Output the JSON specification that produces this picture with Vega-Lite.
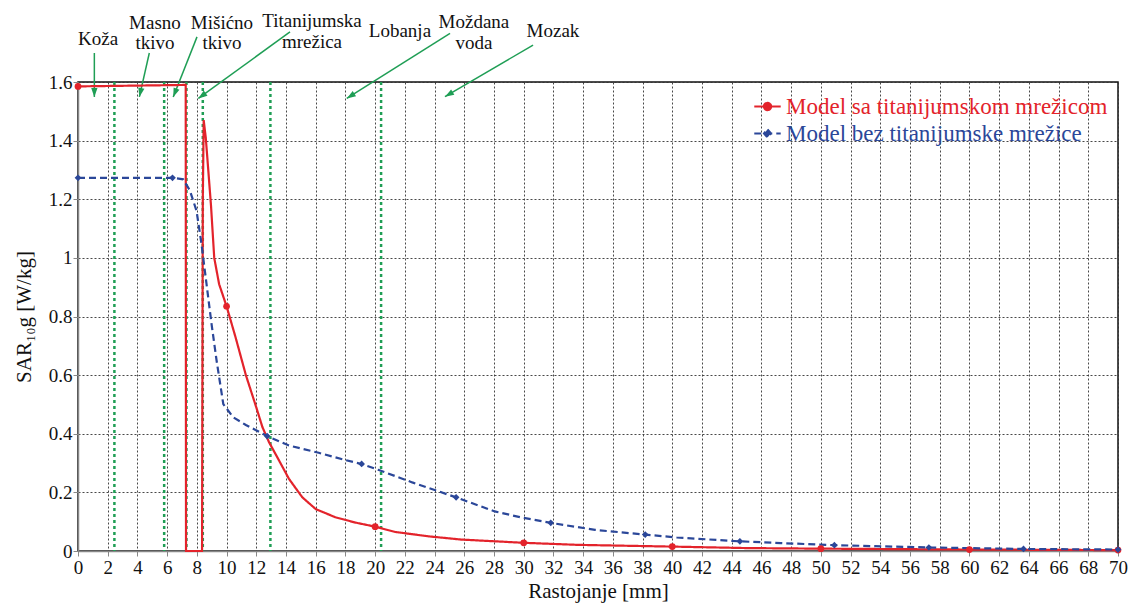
{
  "$schema": "https://vega.github.io/schema/vega-lite/v6.json",
  "width": 1040,
  "height": 469,
  "autosize": {"type": "none"},
  "padding": {"left": 78, "top": 82, "right": 11, "bottom": 57},
  "background": "white",
  "config": {
    "font": "Liberation Serif",
    "view": {"stroke": "#111111", "strokeWidth": 1.5},
    "axis": {
      "labelFont": "Liberation Serif",
      "titleFont": "Liberation Serif",
      "labelColor": "#111111",
      "titleColor": "#111111",
      "titleFontWeight": "normal",
      "labelFontSize": 19,
      "titleFontSize": 21,
      "domainColor": "#888888",
      "domainWidth": 1.5,
      "tickColor": "#888888",
      "tickSize": 5,
      "grid": true,
      "gridColor": "#333333",
      "gridDash": [2, 2],
      "gridWidth": 0.9,
      "labelOverlap": false
    }
  },
  "datasets": {
    "curves": [
      {"series": "Model sa titanijumskom mrežicom", "i": 0, "x": 0, "y": 1.585, "mk": 1},
      {"series": "Model sa titanijumskom mrežicom", "i": 1, "x": 7.25, "y": 1.59, "mk": 0},
      {"series": "Model sa titanijumskom mrežicom", "i": 2, "x": 7.27, "y": 0, "mk": 0},
      {"series": "Model sa titanijumskom mrežicom", "i": 3, "x": 8.35, "y": 0, "mk": 0},
      {"series": "Model sa titanijumskom mrežicom", "i": 4, "x": 8.4, "y": 1.2, "mk": 0},
      {"series": "Model sa titanijumskom mrežicom", "i": 5, "x": 8.46, "y": 1.47, "mk": 0},
      {"series": "Model sa titanijumskom mrežicom", "i": 6, "x": 8.6, "y": 1.41, "mk": 0},
      {"series": "Model sa titanijumskom mrežicom", "i": 7, "x": 8.95, "y": 1.18, "mk": 0},
      {"series": "Model sa titanijumskom mrežicom", "i": 8, "x": 9.17, "y": 1.0, "mk": 0},
      {"series": "Model sa titanijumskom mrežicom", "i": 9, "x": 9.5, "y": 0.91, "mk": 0},
      {"series": "Model sa titanijumskom mrežicom", "i": 10, "x": 10, "y": 0.835, "mk": 1},
      {"series": "Model sa titanijumskom mrežicom", "i": 11, "x": 10.6, "y": 0.73, "mk": 0},
      {"series": "Model sa titanijumskom mrežicom", "i": 12, "x": 11.3, "y": 0.6, "mk": 0},
      {"series": "Model sa titanijumskom mrežicom", "i": 13, "x": 12.0, "y": 0.49, "mk": 0},
      {"series": "Model sa titanijumskom mrežicom", "i": 14, "x": 12.41, "y": 0.423, "mk": 0},
      {"series": "Model sa titanijumskom mrežicom", "i": 15, "x": 12.86, "y": 0.371, "mk": 0},
      {"series": "Model sa titanijumskom mrežicom", "i": 16, "x": 13.53, "y": 0.309, "mk": 0},
      {"series": "Model sa titanijumskom mrežicom", "i": 17, "x": 14.2, "y": 0.246, "mk": 0},
      {"series": "Model sa titanijumskom mrežicom", "i": 18, "x": 15.1, "y": 0.183, "mk": 0},
      {"series": "Model sa titanijumskom mrežicom", "i": 19, "x": 16.0, "y": 0.143, "mk": 0},
      {"series": "Model sa titanijumskom mrežicom", "i": 20, "x": 17.33, "y": 0.115, "mk": 0},
      {"series": "Model sa titanijumskom mrežicom", "i": 21, "x": 18.67, "y": 0.097, "mk": 0},
      {"series": "Model sa titanijumskom mrežicom", "i": 22, "x": 20, "y": 0.083, "mk": 1},
      {"series": "Model sa titanijumskom mrežicom", "i": 23, "x": 21.35, "y": 0.065, "mk": 0},
      {"series": "Model sa titanijumskom mrežicom", "i": 24, "x": 23.6, "y": 0.05, "mk": 0},
      {"series": "Model sa titanijumskom mrežicom", "i": 25, "x": 25.8, "y": 0.039, "mk": 0},
      {"series": "Model sa titanijumskom mrežicom", "i": 26, "x": 30, "y": 0.028, "mk": 1},
      {"series": "Model sa titanijumskom mrežicom", "i": 27, "x": 33.6, "y": 0.021, "mk": 0},
      {"series": "Model sa titanijumskom mrežicom", "i": 28, "x": 40, "y": 0.015, "mk": 1},
      {"series": "Model sa titanijumskom mrežicom", "i": 29, "x": 45, "y": 0.01, "mk": 0},
      {"series": "Model sa titanijumskom mrežicom", "i": 30, "x": 50, "y": 0.008, "mk": 1},
      {"series": "Model sa titanijumskom mrežicom", "i": 31, "x": 60, "y": 0.005, "mk": 1},
      {"series": "Model sa titanijumskom mrežicom", "i": 32, "x": 70, "y": 0.003, "mk": 1},
      {"series": "Model bez titanijumske mrežice", "i": 0, "x": 0, "y": 1.273, "mk": 1},
      {"series": "Model bez titanijumske mrežice", "i": 1, "x": 6.36, "y": 1.273, "mk": 1},
      {"series": "Model bez titanijumske mrežice", "i": 2, "x": 7.08, "y": 1.268, "mk": 0},
      {"series": "Model bez titanijumske mrežice", "i": 3, "x": 7.53, "y": 1.23, "mk": 0},
      {"series": "Model bez titanijumske mrežice", "i": 4, "x": 7.98, "y": 1.16, "mk": 0},
      {"series": "Model bez titanijumske mrežice", "i": 5, "x": 8.31, "y": 1.048, "mk": 0},
      {"series": "Model bez titanijumske mrežice", "i": 6, "x": 8.65, "y": 0.911, "mk": 0},
      {"series": "Model bez titanijumske mrežice", "i": 7, "x": 8.99, "y": 0.774, "mk": 0},
      {"series": "Model bez titanijumske mrežice", "i": 8, "x": 9.33, "y": 0.649, "mk": 0},
      {"series": "Model bez titanijumske mrežice", "i": 9, "x": 9.78, "y": 0.501, "mk": 0},
      {"series": "Model bez titanijumske mrežice", "i": 10, "x": 10.45, "y": 0.456, "mk": 0},
      {"series": "Model bez titanijumske mrežice", "i": 11, "x": 11.3, "y": 0.43, "mk": 0},
      {"series": "Model bez titanijumske mrežice", "i": 12, "x": 12.73, "y": 0.392, "mk": 1},
      {"series": "Model bez titanijumske mrežice", "i": 13, "x": 14.2, "y": 0.36, "mk": 0},
      {"series": "Model bez titanijumske mrežice", "i": 14, "x": 16.2, "y": 0.335, "mk": 0},
      {"series": "Model bez titanijumske mrežice", "i": 15, "x": 18.0, "y": 0.31, "mk": 0},
      {"series": "Model bez titanijumske mrežice", "i": 16, "x": 19.09, "y": 0.297, "mk": 1},
      {"series": "Model bez titanijumske mrežice", "i": 17, "x": 20.2, "y": 0.277, "mk": 0},
      {"series": "Model bez titanijumske mrežice", "i": 18, "x": 22.5, "y": 0.234, "mk": 0},
      {"series": "Model bez titanijumske mrežice", "i": 19, "x": 25.45, "y": 0.183, "mk": 1},
      {"series": "Model bez titanijumske mrežice", "i": 20, "x": 28.05, "y": 0.135, "mk": 0},
      {"series": "Model bez titanijumske mrežice", "i": 21, "x": 29.8, "y": 0.115, "mk": 0},
      {"series": "Model bez titanijumske mrežice", "i": 22, "x": 31.82, "y": 0.096, "mk": 1},
      {"series": "Model bez titanijumske mrežice", "i": 23, "x": 34.8, "y": 0.072, "mk": 0},
      {"series": "Model bez titanijumske mrežice", "i": 24, "x": 38.18, "y": 0.056, "mk": 1},
      {"series": "Model bez titanijumske mrežice", "i": 25, "x": 40.3, "y": 0.046, "mk": 0},
      {"series": "Model bez titanijumske mrežice", "i": 26, "x": 44.55, "y": 0.033, "mk": 1},
      {"series": "Model bez titanijumske mrežice", "i": 27, "x": 47.3, "y": 0.027, "mk": 0},
      {"series": "Model bez titanijumske mrežice", "i": 28, "x": 50.91, "y": 0.02, "mk": 1},
      {"series": "Model bez titanijumske mrežice", "i": 29, "x": 57.27, "y": 0.012, "mk": 1},
      {"series": "Model bez titanijumske mrežice", "i": 30, "x": 63.64, "y": 0.007, "mk": 1},
      {"series": "Model bez titanijumske mrežice", "i": 31, "x": 70, "y": 0.005, "mk": 1}
    ],
    "bounds": [
      {"x": 2.45}, {"x": 5.8}, {"x": 7.3}, {"x": 8.4}, {"x": 12.95}, {"x": 20.4}
    ],
    "labels": [
      {"text": "Koža", "x": 1.35, "y": 1.726},
      {"text": "Masno", "x": 5.18, "y": 1.781},
      {"text": "tkivo", "x": 5.18, "y": 1.713},
      {"text": "Mišićno", "x": 9.69, "y": 1.781},
      {"text": "tkivo", "x": 9.69, "y": 1.713},
      {"text": "Titanijumska", "x": 15.75, "y": 1.789},
      {"text": "mrežica", "x": 15.75, "y": 1.716},
      {"text": "Lobanja", "x": 21.67, "y": 1.754},
      {"text": "Moždana", "x": 26.65, "y": 1.784},
      {"text": "voda", "x": 26.65, "y": 1.713},
      {"text": "Mozak", "x": 31.97, "y": 1.754}
    ],
    "arrows": [
      {"name": "Koža", "x": 1.10, "y": 1.699, "x2": 1.10, "y2": 1.549},
      {"name": "Masno tkivo", "x": 4.80, "y": 1.699, "x2": 4.13, "y2": 1.549},
      {"name": "Mišićno tkivo", "x": 8.01, "y": 1.754, "x2": 6.41, "y2": 1.549},
      {"name": "Titanijumska mrežica", "x": 14.27, "y": 1.771, "x2": 8.10, "y2": 1.544},
      {"name": "Moždana voda", "x": 25.04, "y": 1.766, "x2": 18.09, "y2": 1.544},
      {"name": "Mozak", "x": 30.63, "y": 1.726, "x2": 24.70, "y2": 1.550}
    ]
  },
  "resolve": {"scale": {"shape": "independent"}},
  "encoding": {
    "x": {
      "field": "x", "type": "quantitative",
      "scale": {"domain": [0, 70], "nice": false},
      "axis": {
        "title": "Rastojanje [mm]",
        "values": [0, 2, 4, 6, 8, 10, 12, 14, 16, 18, 20, 22, 24, 26, 28, 30, 32, 34, 36, 38, 40, 42, 44, 46, 48, 50, 52, 54, 56, 58, 60, 62, 64, 66, 68, 70],
        "labelOverlap": false,
        "labelFlush": false,
        "labelPadding": 2,
        "titlePadding": 3
      }
    }
  },
  "layer": [
    {
      "data": {"name": "bounds"},
      "mark": {"type": "rule", "color": "#1f9e55", "strokeWidth": 2.5, "strokeDash": [3, 3]},
      "encoding": {}
    },
    {
      "data": {"name": "arrows"},
      "mark": {"type": "rule", "color": "#1f9e55", "strokeWidth": 1.5, "clip": false},
      "encoding": {
        "y": {
          "field": "y", "type": "quantitative",
          "scale": {"domain": [0, 1.6], "nice": false},
          "axis": {
            "title": "SAR₁₀g [W/kg]",
            "values": [0, 0.2, 0.4, 0.6, 0.8, 1, 1.2, 1.4, 1.6],
            "format": ".1~f",
            "labelOverlap": false,
            "labelPadding": 1,
            "titlePadding": 14
          }
        },
        "x2": {"field": "x2"},
        "y2": {"field": "y2"}
      }
    },
    {
      "data": {"name": "arrows"},
      "mark": {"type": "point", "filled": true, "color": "#1f9e55", "opacity": 1, "size": 81, "clip": false},
      "encoding": {
        "x": {"field": "x2", "type": "quantitative"},
        "y": {"field": "y2", "type": "quantitative"},
        "shape": {
          "field": "name", "type": "nominal", "legend": null,
          "scale": {
            "domain": ["Koža", "Masno tkivo", "Mišićno tkivo", "Titanijumska mrežica", "Moždana voda", "Mozak"],
            "range": [
              "M0,0L-0.7,-2L0.7,-2Z",
              "M0,0L-0.2396,-2.105L1.1256,-1.795Z",
              "M0,0L0.0853,-2.1173L1.3871,-1.6019Z",
              "M0,0L1.2095,-1.7398L2.0305,-0.6058Z",
              "M0,0L1.3194,-1.6581L2.0654,-0.4735Z",
              "M0,0L1.3708,-1.6158L2.0792,-0.4082Z"
            ]
          }
        }
      }
    },
    {
      "data": {"name": "labels"},
      "mark": {"type": "text", "align": "center", "baseline": "alphabetic", "fontSize": 19, "font": "Liberation Serif", "color": "#111111", "clip": false},
      "encoding": {
        "y": {"field": "y", "type": "quantitative"},
        "text": {"field": "text"}
      }
    },
    {
      "data": {"name": "curves"},
      "mark": {"type": "line", "strokeWidth": 2.2},
      "encoding": {
        "y": {"field": "y", "type": "quantitative"},
        "order": {"field": "i", "type": "quantitative"},
        "color": {
          "field": "series", "type": "nominal",
          "scale": {"domain": ["Model sa titanijumskom mrežicom", "Model bez titanijumske mrežice"], "range": ["#e3232b", "#2b4799"]},
          "legend": {
            "title": null,
            "orient": "top-right",
            "offset": 8,
            "padding": 2,
            "labelFont": "Liberation Serif",
            "labelFontSize": 23,
            "labelLimit": 0,
            "labelOffset": 4,
            "rowPadding": 0,
            "symbolType": "stroke",
            "symbolStrokeWidth": 2.2,
            "symbolSize": 700,
            "encode": {
              "labels": {"update": {"fill": {"scale": "color", "field": "value"}}},
              "symbols": {"update": {
                "shape": {"signal": "datum.value == 'Model sa titanijumskom mrežicom' ? 'M-1,0L1,0M-0.27,0A0.27,0.27 0 1,0 0.27,0A0.27,0.27 0 1,0 -0.27,0Z' : 'M-1,0L1,0M0,-0.3L0.26,0L0,0.3L-0.26,0Z'"},
                "fill": {"scale": "color", "field": "value"}
              }}
            }
          }
        },
        "strokeDash": {
          "field": "series", "type": "nominal",
          "scale": {"domain": ["Model sa titanijumskom mrežicom", "Model bez titanijumske mrežice"], "range": [[1, 0], [7, 4]]}
        }
      }
    },
    {
      "data": {"name": "curves"},
      "transform": [{"filter": "datum.mk == 1"}],
      "mark": {"type": "point", "filled": true, "opacity": 1, "size": 45, "clip": false},
      "encoding": {
        "y": {"field": "y", "type": "quantitative"},
        "color": {"field": "series", "type": "nominal"},
        "shape": {
          "field": "series", "type": "nominal", "legend": null,
          "scale": {"domain": ["Model sa titanijumskom mrežicom", "Model bez titanijumske mrežice"], "range": ["circle", "diamond"]}
        }
      }
    }
  ]
}
